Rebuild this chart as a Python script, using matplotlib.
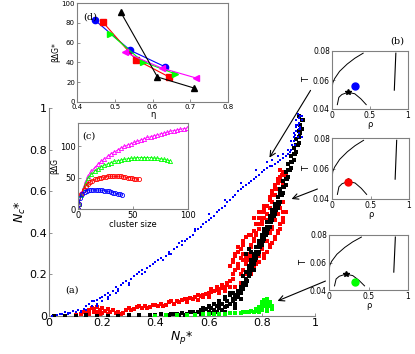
import numpy as np
import matplotlib
matplotlib.use("Agg")
import matplotlib.pyplot as plt
from matplotlib.ticker import FuncFormatter

# ---------------- data: main panel (a) ----------------
blue_np = [0.01,0.03,0.04,0.05,0.06,0.07,0.08,0.09,0.10,0.11,0.12,0.13,0.14,0.14,0.15,0.16,0.16,0.17,0.18,0.18,0.19,0.20,0.20,0.21,0.22,0.22,0.23,0.24,0.25,0.25,0.26,0.27,0.28,0.29,0.30,0.31,0.32,0.33,0.34,0.35,0.36,0.37,0.38,0.39,0.40,0.41,0.42,0.43,0.44,0.45,0.46,0.47,0.48,0.49,0.50,0.51,0.52,0.53,0.54,0.55,0.56,0.57,0.58,0.59,0.60,0.61,0.62,0.63,0.64,0.65,0.66,0.67,0.68,0.69,0.70,0.71,0.72,0.73,0.74,0.75,0.76,0.77,0.78,0.79,0.80,0.81,0.82,0.83,0.84,0.85,0.86,0.87,0.88,0.89,0.90,0.905,0.91,0.915,0.92,0.92,0.925,0.93,0.93,0.935,0.94,0.94,0.945,0.95,0.91,0.92,0.93,0.94,0.95,0.925,0.935,0.945,0.90,0.88,0.86,0.84,0.82,0.78,0.72,0.66,0.60,0.55,0.50,0.45,0.40,0.35,0.30,0.26,0.22,0.18,0.12,0.07,0.935,0.945,0.94,0.95,0.93]
blue_nc = [0.00,0.005,0.01,0.01,0.02,0.015,0.015,0.025,0.02,0.03,0.025,0.035,0.05,0.03,0.06,0.05,0.07,0.07,0.075,0.05,0.085,0.09,0.07,0.10,0.11,0.08,0.10,0.12,0.14,0.11,0.13,0.15,0.16,0.17,0.16,0.18,0.19,0.20,0.21,0.22,0.21,0.23,0.24,0.25,0.26,0.27,0.28,0.27,0.29,0.31,0.30,0.32,0.33,0.35,0.34,0.36,0.37,0.38,0.39,0.41,0.42,0.43,0.44,0.45,0.46,0.47,0.48,0.50,0.51,0.52,0.53,0.55,0.56,0.57,0.58,0.60,0.61,0.62,0.63,0.64,0.65,0.66,0.67,0.68,0.69,0.70,0.71,0.72,0.72,0.73,0.74,0.75,0.76,0.77,0.78,0.79,0.80,0.82,0.84,0.86,0.87,0.89,0.91,0.92,0.93,0.95,0.96,0.94,0.84,0.88,0.92,0.90,0.96,0.82,0.86,0.90,0.80,0.78,0.77,0.75,0.74,0.70,0.64,0.56,0.49,0.42,0.36,0.30,0.26,0.20,0.15,0.12,0.09,0.06,0.02,0.008,0.97,0.91,0.88,0.86,0.94]

red_np = [0.10,0.12,0.13,0.14,0.15,0.16,0.17,0.18,0.19,0.20,0.21,0.22,0.23,0.24,0.25,0.26,0.27,0.28,0.15,0.18,0.20,0.22,0.17,0.19,
          0.29,0.30,0.32,0.33,0.35,0.36,0.38,0.39,0.41,0.42,0.44,0.45,0.47,0.48,0.50,0.51,0.53,0.54,0.55,0.57,0.58,0.59,0.60,0.61,0.62,0.63,0.64,0.65,0.66,0.67,0.52,0.56,0.60,0.64,
          0.31,0.34,0.37,0.40,0.43,0.46,0.49,0.52,0.56,0.58,0.61,0.63,0.65,0.66,0.67,0.68,
          0.68,0.69,0.70,0.69,0.71,0.72,0.70,0.72,0.73,0.71,0.73,0.74,0.74,0.75,0.76,0.75,0.77,0.78,0.76,0.78,0.79,0.77,0.79,0.80,0.81,0.78,0.80,0.82,0.83,0.79,0.81,0.83,0.85,0.80,0.82,0.84,0.86,0.81,0.83,0.85,0.87,0.82,0.84,0.86,0.88,0.83,0.85,0.87,0.84,0.86,0.88,0.85,0.87,0.86,0.88,0.87,0.88,0.86,0.87,0.89,0.77,0.79,0.81,0.75,0.73,0.74,0.80,0.82,0.84,0.86,0.88,
          0.73,0.74,0.75,0.76,0.77,0.78,0.79,0.80,0.81,0.82,0.83,0.84,0.85,0.86,0.87,0.875,0.78,0.79,0.77,0.76,0.80,0.81,0.83,0.84,0.85,0.86,0.87,0.88,0.89,0.88,0.87,0.86,0.85,0.84,0.83,0.82,0.81,0.79,0.77,0.76,0.74,0.72,0.70,0.69,0.71,0.72,0.73,0.74,0.75,0.76,0.70,0.71,0.68,0.69]
red_nc = [0.005,0.01,0.02,0.015,0.03,0.04,0.035,0.045,0.03,0.04,0.025,0.035,0.02,0.03,0.015,0.02,0.01,0.015,0.01,0.02,0.015,0.01,0.02,0.01,
          0.03,0.04,0.035,0.045,0.04,0.05,0.045,0.055,0.05,0.06,0.055,0.065,0.06,0.07,0.075,0.08,0.085,0.08,0.09,0.095,0.10,0.105,0.11,0.115,0.12,0.125,0.13,0.135,0.14,0.15,0.065,0.075,0.09,0.11,
          0.03,0.05,0.04,0.055,0.05,0.07,0.065,0.08,0.10,0.09,0.13,0.14,0.15,0.12,0.16,0.14,
          0.17,0.20,0.22,0.26,0.25,0.28,0.30,0.32,0.34,0.33,0.30,0.20,0.26,0.24,0.22,0.29,0.27,0.25,0.33,0.31,0.29,0.36,0.34,0.32,0.30,0.40,0.38,0.36,0.34,0.44,0.42,0.40,0.38,0.47,0.45,0.43,0.41,0.50,0.48,0.46,0.44,0.53,0.51,0.49,0.47,0.56,0.54,0.52,0.58,0.57,0.55,0.61,0.60,0.64,0.63,0.67,0.69,0.66,0.70,0.68,0.47,0.50,0.52,0.39,0.36,0.38,0.44,0.46,0.42,0.40,0.50,
          0.27,0.28,0.30,0.34,0.37,0.39,0.42,0.45,0.47,0.49,0.52,0.55,0.58,0.61,0.65,0.68,0.44,0.47,0.41,0.39,0.50,0.53,0.57,0.60,0.63,0.66,0.58,0.62,0.50,0.45,0.42,0.40,0.37,0.35,0.33,0.31,0.28,0.26,0.23,0.20,0.18,0.16,0.14,0.18,0.23,0.20,0.22,0.25,0.27,0.29,0.29,0.31,0.24,0.27]

black_np = [0.02,0.06,0.10,0.14,0.18,0.22,0.26,0.30,0.34,0.38,0.40,0.42,0.44,0.45,0.46,0.48,0.50,0.51,0.52,0.54,0.55,0.56,0.57,0.58,0.59,0.60,0.60,0.61,0.62,0.62,0.63,0.64,0.64,0.65,0.66,0.66,0.67,0.68,0.68,0.69,0.69,0.70,0.70,0.71,0.71,0.72,0.72,0.73,0.73,0.73,0.74,0.74,0.74,0.75,0.75,0.75,0.76,0.76,0.76,0.77,0.77,0.77,0.78,0.78,0.78,0.79,0.79,0.79,0.80,0.80,0.80,0.81,0.81,0.81,0.82,0.82,0.82,0.83,0.83,0.83,0.84,0.84,0.84,0.85,0.85,0.85,0.86,0.86,0.86,0.87,0.87,0.87,0.88,0.88,0.88,0.89,0.89,0.89,0.90,0.90,0.90,0.91,0.91,0.91,0.92,0.92,0.92,0.93,0.93,0.93,0.94,0.94,0.94,0.945,0.95,0.74,0.75,0.76,0.77,0.66,0.62,0.70,0.72,0.57,0.53,0.49,0.47,
            0.745,0.755,0.765,0.775,0.785,0.795,0.805,0.815,0.825,0.835,0.845,0.855,0.865,0.875,0.885,0.895,0.905,0.915,0.925,0.935,0.945,0.94,0.95,0.955,
            0.70,0.71,0.72,0.73,0.67,0.69,0.65,0.63,0.61,0.64,0.66,0.68,0.60,0.58]
black_nc = [0.0,0.002,0.0,0.003,0.001,0.002,0.0,0.003,0.004,0.005,0.003,0.008,0.004,0.006,0.012,0.01,0.015,0.006,0.012,0.02,0.01,0.018,0.03,0.025,0.035,0.02,0.045,0.04,0.03,0.06,0.05,0.04,0.07,0.06,0.045,0.08,0.07,0.06,0.10,0.08,0.11,0.10,0.06,0.12,0.09,0.14,0.11,0.16,0.13,0.19,0.18,0.15,0.21,0.19,0.24,0.22,0.22,0.27,0.25,0.25,0.30,0.28,0.28,0.33,0.31,0.31,0.36,0.34,0.34,0.39,0.37,0.37,0.42,0.40,0.40,0.45,0.43,0.43,0.48,0.46,0.46,0.51,0.49,0.49,0.54,0.52,0.52,0.57,0.55,0.55,0.61,0.59,0.59,0.65,0.62,0.63,0.69,0.66,0.67,0.73,0.70,0.71,0.77,0.74,0.75,0.81,0.78,0.79,0.85,0.82,0.83,0.89,0.86,0.92,0.94,0.30,0.32,0.31,0.22,0.02,0.06,0.04,0.08,0.01,0.02,0.005,0.01,
            0.17,0.20,0.24,0.27,0.30,0.33,0.36,0.39,0.42,0.45,0.48,0.51,0.54,0.58,0.62,0.66,0.70,0.74,0.78,0.82,0.88,0.96,0.90,0.94,
            0.08,0.11,0.12,0.15,0.05,0.07,0.03,0.02,0.015,0.06,0.09,0.11,0.05,0.04]

green_np = [0.40,0.44,0.48,0.52,0.55,0.58,0.60,0.62,0.64,0.66,0.68,0.70,0.72,0.73,0.74,0.75,0.76,0.77,0.78,0.78,0.79,0.79,0.80,0.80,0.80,0.81,0.81,0.81,0.82,0.82,0.82,0.83,0.83,0.84,0.84,0.80,0.82,0.79,0.805,0.815,0.825,0.795]
green_nc = [0.002,0.004,0.003,0.005,0.006,0.008,0.01,0.008,0.012,0.01,0.014,0.016,0.014,0.018,0.02,0.018,0.022,0.02,0.025,0.035,0.03,0.045,0.04,0.055,0.065,0.05,0.06,0.075,0.04,0.07,0.08,0.05,0.065,0.035,0.05,0.03,0.025,0.02,0.05,0.07,0.06,0.04]

main_ticks = [0, 0.2, 0.4, 0.6, 0.8, 1]

# ---------------- data: inset (d) ----------------
d_blue_eta = [0.448, 0.541, 0.634]; d_blue_g = [82.5, 52.2, 35.4]
d_red_eta = [0.469, 0.556, 0.644];  d_red_g = [80.5, 42.8, 25.3]
d_green_eta = [0.488, 0.574, 0.659]; d_green_g = [69.0, 40.7, 28.6]
d_mag_eta = [0.527, 0.624, 0.716];  d_mag_g = [50.2, 34.3, 24.2]
d_black_eta = [0.516, 0.613, 0.710]; d_black_g = [90.6, 25.3, 14.1]

# ---------------- data: inset (c) ----------------
c_mag_n = [0,1,3,5,7,9,12,15,18,21,24,27,30,33,36,39,42,45,48,51,54,57,60,63,66,69,72,75,78,81,84,87,90,93,96,99]
c_mag_g = [0,8,25,35,44,52,60,66,71,76,80,84,88,91,94,97,100,102,104,106,108,110,112,114,115,117,118,120,121,122,124,125,126,127,128,129]
c_green_n = [0,1,3,5,7,9,12,15,18,21,24,27,30,33,36,39,42,45,48,51,54,57,60,63,66,69,72,75,78,81,84]
c_green_g = [0,8,22,33,42,49,55,60,64,67,70,72,74,76,77,78,79,80,81,81,82,82,82,82,82,81,81,80,79,78,77]
c_red_n = [0,1,3,5,7,9,11,13,15,17,19,21,23,25,27,29,31,33,35,37,39,41,43,45,47,49,51,53,55]
c_red_g = [0,8,24,31,36,40,43,45,47,48,49,50,51,51,52,52,52,52,52,52,52,51,51,50,50,49,48,48,47]
c_blue_n = [0,1,2,4,6,8,10,12,14,16,18,20,22,24,26,28,30,32,34,36,38,40]
c_blue_g = [0,8,18,24,27,29,30,30,30.5,30.5,30,30,29.5,29,28.5,28,27,26,25.5,24.5,23.5,22]

# ---------------- data: insets (b) ----------------
b_gas_rho = [0.0, 0.01, 0.035, 0.1, 0.2, 0.3, 0.41]
b_gas_T = [0.053, 0.058, 0.061, 0.066, 0.071, 0.075, 0.0785]
b_dome_rho = [0.07, 0.09, 0.13, 0.21, 0.30, 0.38, 0.45]
b_dome_T = [0.043, 0.048, 0.050, 0.0515, 0.0505, 0.047, 0.043]
b_solid_rho = [0.82, 0.84]
b_solid_T = [0.053, 0.0785]
b_crit_rho = [0.21]
b_crit_T = [0.0515]
b_state_rho = [0.30, 0.21, 0.33]
b_state_T = [0.056, 0.051, 0.0456]
b_state_col = ['blue', 'red', 'lime']

# ---------------- figure ----------------
W, H = 415, 354
fig = plt.figure(figsize=(W/100, H/100), dpi=100)
GRAY = '#808080'

def px_axes(l, t, r, b):
    return fig.add_axes([l/W, 1-b/H, (r-l)/W, (b-t)/H])

def style(ax, size):
    for s in ax.spines.values():
        s.set_color(GRAY)
        s.set_linewidth(0.8)
    ax.tick_params(direction='in', length=2.5, width=0.6, labelsize=size, pad=1.5)
    ax.tick_params(axis='both', color=GRAY)

fmt = FuncFormatter(lambda v, p: ('%g' % v))

# main axes
ax = px_axes(49, 108, 315, 316)
style(ax, 8)
ax.spines['top'].set_visible(False)
ax.spines['right'].set_visible(False)
ax.set_xlim(0, 1); ax.set_ylim(0, 1)
ax.set_xticks(main_ticks); ax.set_yticks(main_ticks)
ax.xaxis.set_major_formatter(fmt); ax.yaxis.set_major_formatter(fmt)
ax.tick_params(top=False, right=False)
ms = 5.5
ax.scatter(red_np, red_nc, s=ms, c='red', marker='s', linewidths=0, zorder=2)
ax.scatter(black_np, black_nc, s=ms, c='black', marker='s', linewidths=0, zorder=3)
ax.scatter(blue_np, blue_nc, s=4.5, c='blue', marker='s', linewidths=0, zorder=4)
ax.scatter(green_np, green_nc, s=ms, c='lime', marker='s', linewidths=0, zorder=5)
ax.set_xlabel(r'$N_p$*', fontsize=9, labelpad=1)
ax.set_ylabel(r'$N_c$*', fontsize=9, labelpad=1)
ax.text(0.06, 0.115, '(a)', fontsize=7, family='DejaVu Serif')

# inset (d)
axd = px_axes(77, 3, 228, 102)
style(axd, 5)
axd.set_xlim(0.4, 0.8); axd.set_ylim(0, 100)
axd.set_xticks([0.4, 0.5, 0.6, 0.7, 0.8]); axd.set_yticks([0, 20, 40, 60, 80, 100])
axd.xaxis.set_major_formatter(fmt)
mk = 4.5
axd.plot(d_blue_eta, d_blue_g, '-o', color='blue', ms=mk, lw=0.8)
axd.plot(d_red_eta, d_red_g, '-s', color='red', ms=mk, lw=0.8)
axd.plot(d_green_eta, d_green_g, '->', color='lime', ms=mk, lw=0.8)
axd.plot(d_mag_eta, d_mag_g, '-<', color='magenta', ms=mk, lw=0.8)
axd.plot(d_black_eta, d_black_g, '-^', color='black', ms=mk, lw=0.8)
axd.set_xlabel('η', fontsize=6, labelpad=0)
axd.set_ylabel('βΔG*', fontsize=5.5, labelpad=1)
axd.text(0.04, 0.83, '(d)', transform=axd.transAxes, fontsize=7, family='DejaVu Serif')

# inset (c)
axc = px_axes(78, 123, 188, 209)
style(axc, 6)
axc.set_xlim(0, 100); axc.set_ylim(0, 137)
axc.set_xticks([0, 50, 100]); axc.set_yticks([0, 50, 100])
mo = dict(mfc='none', ms=3, mew=0.6, lw=0.5)
axc.plot(c_mag_n, c_mag_g, '-^', color='magenta', **mo)
axc.plot(c_green_n, c_green_g, '-^', color='lime', **mo)
axc.plot(c_red_n, c_red_g, '-o', color='red', **mo)
axc.plot(c_blue_n, c_blue_g, '-o', color='blue', **mo)
axc.set_xlabel('cluster size', fontsize=6, labelpad=0)
axc.set_ylabel('βΔG', fontsize=5.5, labelpad=1)
axc.text(0.04, 0.82, '(c)', transform=axc.transAxes, fontsize=7, family='DejaVu Serif')

# insets (b)
boxes = [(332, 51, 408, 109), (332, 138, 409, 199), (329, 235, 408, 290)]
for i, (l, t, r, b) in enumerate(boxes):
    a = px_axes(l, t, r, b)
    style(a, 5.5)
    a.set_xlim(0, 1); a.set_ylim(0.04, 0.08)
    a.set_xticks([0, 0.5, 1]); a.set_yticks([0.04, 0.06, 0.08])
    a.xaxis.set_major_formatter(fmt)
    a.plot(b_gas_rho, b_gas_T, color='black', lw=0.7)
    a.plot(b_dome_rho, b_dome_T, color='black', lw=0.7)
    a.plot(b_solid_rho, b_solid_T, color='black', lw=0.8)
    a.plot(b_crit_rho, b_crit_T, '*', color='black', ms=4)
    a.plot([b_state_rho[i]], [b_state_T[i]], 'o', color=b_state_col[i], ms=5)
    a.set_xlabel('ρ', fontsize=6, labelpad=0)
    a.set_ylabel('T', fontsize=6, labelpad=1)
fig.text(397/W, 1-41/H, '(b)', fontsize=7, family='DejaVu Serif', ha='center', va='center')

# arrows (figure pixel coordinates)
arrows = [((312, 88), (268, 160)), ((320, 188), (289, 200)), ((328, 280), (275, 302))]
for (x0, y0), (x1, y1) in arrows:
    fig.add_artist(matplotlib.patches.FancyArrowPatch(
        (x0/W, 1-y0/H), (x1/W, 1-y1/H), transform=fig.transFigure,
        arrowstyle='->,head_length=4,head_width=2', lw=0.8, color='black'))

fig.savefig('out.png', dpi=100)
